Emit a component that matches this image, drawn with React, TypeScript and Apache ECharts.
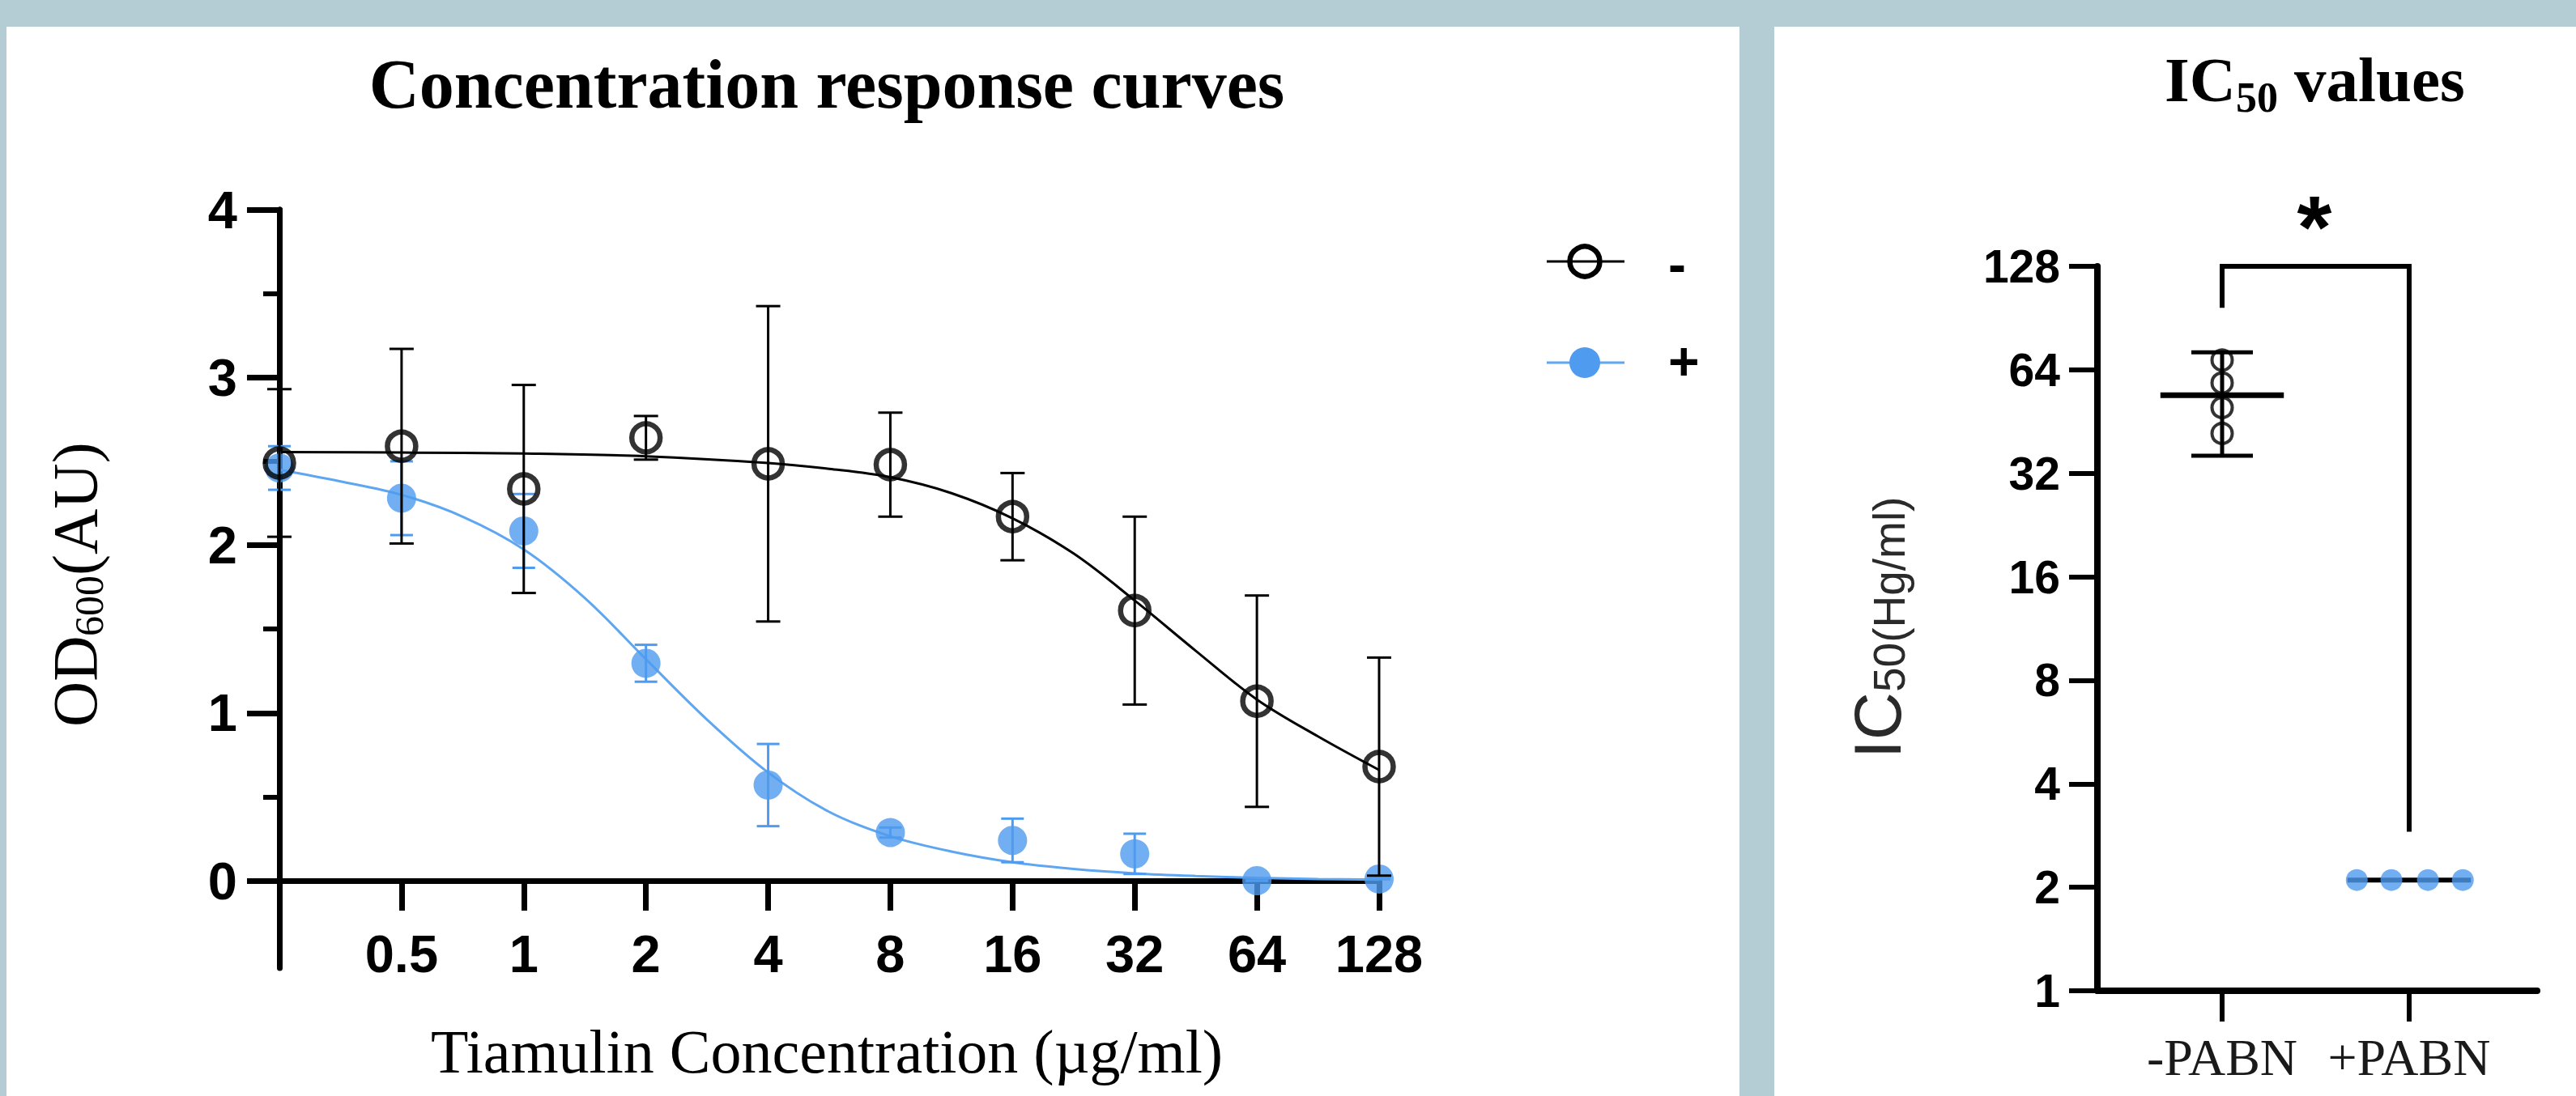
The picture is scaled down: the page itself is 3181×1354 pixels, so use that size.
import React, { useEffect, useRef } from "react";
import * as echarts from "echarts";

// ---------- Left panel data (OD600 vs Tiamulin concentration) ----------
// positions 0..9 on the axis: 0 = no drug, then 0.5 ... 128 µg/ml
const concTickLabels = ["0.5", "1", "2", "4", "8", "16", "32", "64", "128"];
const concPositions = [0, 1, 2, 3, 4, 5, 6, 7, 8, 9];
const concTickPositions = [1, 2, 3, 4, 5, 6, 7, 8, 9];
const odTickValues = [0, 1, 2, 3, 4];
const odMinorTickValues = [0.5, 1.5, 2.5, 3.5];
const odAxisLowerEnd = -0.52;

// "-" (no PABN), open black circles
const minusMean = [2.49, 2.59, 2.335, 2.64, 2.485, 2.48, 2.17, 1.61, 1.07, 0.68];
const minusSD = [0.44, 0.58, 0.62, 0.13, 0.94, 0.31, 0.26, 0.56, 0.63, 0.65];
// "+" (with PABN), filled blue circles
const plusMean = [2.46, 2.28, 2.085, 1.296, 0.57, 0.287, 0.24, 0.16, 0.0, 0.01];
const plusSD = [0.13, 0.22, 0.22, 0.11, 0.245, 0.03, 0.13, 0.12, 0, 0];

// fitted curves
const minusCurvePos = [0, 1, 2, 3, 4, 4.5, 5, 5.5, 6, 6.5, 7, 7.5, 8, 8.5, 9];
const minusCurveVal = [2.555, 2.552, 2.546, 2.53, 2.49, 2.455, 2.405, 2.31, 2.16, 1.95, 1.67, 1.37, 1.08, 0.86, 0.66];
const plusCurvePos = [0, 0.5, 1, 1.5, 2, 2.5, 3, 3.5, 4, 4.5, 5, 5.5, 6, 6.5, 7, 7.5, 8, 8.5, 9];
const plusCurveVal = [2.45, 2.38, 2.3, 2.17, 1.975, 1.685, 1.32, 0.96, 0.645, 0.41, 0.265, 0.174, 0.11, 0.07, 0.044, 0.028, 0.017, 0.01, 0.006];

// ---------- Right panel data (IC50) ----------
const groupLabels = ["-PABN", "+PABN"];
const groupPositions = [0, 1];
const log2Ticks = [1, 2, 4, 8, 16, 32, 64, 128];
const minusPabnIC50 = [68.3, 58.6, 49.7, 41.8];
const minusPabnMean = 54;
const minusPabnLow = 36;
const minusPabnHigh = 72;
const plusPabnIC50 = [2.1, 2.1, 2.1, 2.1];
const plusPabnJitter = [-0.28, -0.095, 0.1, 0.287];
const plusPabnMean = 2.1;
const meanHalfWidth = 0.33;
const bracketX = [0, 0, 1, 1];
const bracketY = [97, 128, 128, 2.9];

const BLUE = "#4f9bef";
const BLUE_LINE = "#5ea6f2";
const SANS = "'Liberation Sans', Arial, Helvetica, sans-serif";
const SERIF = "'Liberation Serif', 'Times New Roman', Times, serif";

function errorSeries(
  name: string,
  xs: number[],
  lows: number[],
  highs: number[],
  color: string,
  capHalf: number,
  width: number,
  xAxisIndex: number,
  yAxisIndex: number,
  z: number
) {
  return {
    type: "custom",
    name,
    xAxisIndex,
    yAxisIndex,
    z,
    silent: true,
    clip: false,
    data: xs.map((x, i) => [x, lows[i], highs[i]]),
    encode: { x: 0, y: [1, 2] },
    renderItem: (_params: any, api: any) => {
      const x = api.value(0);
      const lo = api.value(1);
      const hi = api.value(2);
      const a = api.coord([x, lo]);
      const b = api.coord([x, hi]);
      const st = { stroke: color, lineWidth: width, fill: "none" };
      return {
        type: "group",
        children: [
          { type: "line", shape: { x1: a[0], y1: a[1], x2: b[0], y2: b[1] }, style: st },
          { type: "line", shape: { x1: a[0] - capHalf, y1: a[1], x2: a[0] + capHalf, y2: a[1] }, style: st },
          { type: "line", shape: { x1: b[0] - capHalf, y1: b[1], x2: b[0] + capHalf, y2: b[1] }, style: st },
        ],
      };
    },
  };
}

function txt(
  text: string,
  x: number,
  y: number,
  size: number,
  family: string,
  weight: string,
  align: string = "left",
  rotation: number = 0,
  color: string = "#000"
) {
  return {
    type: "text",
    x,
    y,
    rotation,
    silent: true,
    z: 20,
    style: {
      text,
      fill: color,
      fontSize: size,
      fontFamily: family,
      fontWeight: weight,
      textAlign: align,
      align,
      textVerticalAlign: "middle",
      verticalAlign: "middle",
    },
  };
}

export default function App() {
  const ref = useRef<HTMLDivElement>(null);

  useEffect(() => {
    if (!ref.current) return;
    const chart = echarts.init(ref.current, undefined, { renderer: "svg" });

    const graphicElements: any[] = [
      { type: "rect", silent: true, z: -10, shape: { x: 8, y: 33, width: 2140, height: 1321 }, style: { fill: "#ffffff" } },
      { type: "rect", silent: true, z: -10, shape: { x: 2191, y: 33, width: 990, height: 1321 }, style: { fill: "#ffffff" } },
      // left title
      txt("Concentration response curves", 1021, 104, 86, SERIF, "bold", "center"),
      // x axis title
      txt("Tiamulin Concentration (\u00b5g/ml)", 1021, 1299, 76, SERIF, "normal", "center"),
      // y axis title OD600(AU), rotated
      txt("OD", 92, 898, 78, SERIF, "normal", "left", Math.PI / 2),
      txt("600", 110, 786, 50, SERIF, "normal", "left", Math.PI / 2),
      txt("(AU)", 92, 711, 78, SERIF, "normal", "left", Math.PI / 2),
      // legend
      { type: "line", silent: true, z: 20, shape: { x1: 1910, y1: 323, x2: 2006, y2: 323 }, style: { stroke: "#000", lineWidth: 3 } },
      { type: "circle", silent: true, z: 21, shape: { cx: 1957, cy: 323, r: 18.5 }, style: { fill: "none", stroke: "#000", lineWidth: 6.5 } },
      txt("-", 2060, 326, 66, SANS, "bold"),
      { type: "line", silent: true, z: 20, shape: { x1: 1910, y1: 448, x2: 2006, y2: 448 }, style: { stroke: BLUE_LINE, lineWidth: 3 } },
      { type: "circle", silent: true, z: 21, shape: { cx: 1957, cy: 448, r: 19 }, style: { fill: BLUE } },
      txt("+", 2060, 446, 66, SANS, "bold"),
      // right title IC50 values
      txt("IC", 2673, 98, 79, SERIF, "bold"),
      txt("50", 2761, 120, 52, SERIF, "bold"),
      txt("values", 2833, 98, 79, SERIF, "bold"),
      // significance star
      txt("*", 2858, 279, 110, SANS, "bold", "center"),
      // right y axis title IC50(Hg/ml)
      txt("IC", 2318, 937, 82, SANS, "normal", "left", Math.PI / 2, "#2a2a2a"),
      txt("50(Hg/ml)", 2333, 855, 55, SANS, "normal", "left", Math.PI / 2, "#2a2a2a"),
    ];

    const option: any = {
      animation: false,
      backgroundColor: "#b4cdd4",
      graphic: { elements: graphicElements },
      grid: [
        // data area of the left chart: value 4 at top, value 0 at bottom
        { left: 345, top: 259, width: 1358, height: 829, containLabel: false },
        // right chart
        { left: 2590, top: 329, width: 543, height: 895, containLabel: false },
        // left chart's y axis line, which runs on below 0
        { left: 345, top: 259, width: 1358, height: 937, containLabel: false },
      ],
      xAxis: [
        {
          type: "value",
          gridIndex: 0,
          min: 0,
          max: 9,
          axisLine: { show: true, onZero: false, lineStyle: { color: "#000", width: 7 } },
          axisTick: { show: true, customValues: concTickPositions, length: 37, lineStyle: { color: "#000", width: 7 } },
          axisLabel: {
            show: true,
            customValues: concTickPositions,
            formatter: (v: number) => concTickLabels[Math.round(v) - 1] ?? "",
            fontSize: 65,
            fontWeight: "bold",
            fontFamily: SANS,
            color: "#000",
            margin: 58,
          },
          splitLine: { show: false },
        },
        {
          type: "value",
          gridIndex: 1,
          min: -0.6667,
          max: 1.684,
          axisLine: { show: true, onZero: false, lineStyle: { color: "#000", width: 8 } },
          axisTick: { show: true, customValues: groupPositions, length: 38, lineStyle: { color: "#000", width: 6 } },
          axisLabel: {
            show: true,
            customValues: groupPositions,
            formatter: (v: number) => groupLabels[Math.round(v)] ?? "",
            fontSize: 64,
            fontFamily: SERIF,
            color: "#1a1a1a",
            margin: 50,
          },
          splitLine: { show: false },
        },
        {
          type: "value",
          gridIndex: 2,
          min: 0,
          max: 9,
          show: false,
        },
      ],
      yAxis: [
        {
          type: "value",
          gridIndex: 0,
          min: 0,
          max: 4,
          position: "left",
          axisLine: { show: true, onZero: false, lineStyle: { color: "#000", width: 7 } },
          axisTick: { show: true, customValues: odTickValues, length: 40, lineStyle: { color: "#000", width: 7 } },
          axisLabel: {
            show: true,
            customValues: odTickValues,
            fontSize: 65,
            fontWeight: "bold",
            fontFamily: SANS,
            color: "#000",
            margin: 52,
          },
          splitLine: { show: false },
        },
        {
          type: "value",
          gridIndex: 0,
          min: 0,
          max: 4,
          position: "left",
          offset: 0,
          axisLine: { show: false },
          axisTick: { show: true, customValues: odMinorTickValues, length: 20, lineStyle: { color: "#000", width: 6 } },
          axisLabel: { show: false },
          splitLine: { show: false },
        },
        {
          type: "log",
          logBase: 2,
          gridIndex: 1,
          min: log2Ticks[0],
          max: log2Ticks[log2Ticks.length - 1],
          interval: 1,
          position: "left",
          axisLine: { show: true, onZero: false, lineStyle: { color: "#000", width: 8 } },
          axisTick: { show: true, length: 35, lineStyle: { color: "#000", width: 6 } },
          axisLabel: {
            show: true,
            fontSize: 57,
            fontWeight: "bold",
            fontFamily: SANS,
            color: "#000",
            margin: 46,
          },
          minorTick: { show: false },
          splitLine: { show: false },
        },
        {
          type: "value",
          gridIndex: 2,
          min: odAxisLowerEnd,
          max: 4,
          position: "left",
          axisLine: { show: true, onZero: false, lineStyle: { color: "#000", width: 7 } },
          axisTick: { show: false },
          axisLabel: { show: false },
          splitLine: { show: false },
        },
      ],
      series: [
        {
          type: "line",
          name: "- fit",
          xAxisIndex: 0,
          yAxisIndex: 0,
          z: 2,
          data: minusCurvePos.map((p, i) => [p, minusCurveVal[i]]),
          smooth: 0.35,
          showSymbol: false,
          symbol: "none",
          clip: false,
          lineStyle: { color: "#000", width: 3 },
          silent: true,
        },
        {
          type: "line",
          name: "+ fit",
          xAxisIndex: 0,
          yAxisIndex: 0,
          z: 2,
          data: plusCurvePos.map((p, i) => [p, plusCurveVal[i]]),
          smooth: 0.35,
          showSymbol: false,
          symbol: "none",
          clip: false,
          lineStyle: { color: BLUE_LINE, width: 3 },
          silent: true,
        },
        errorSeries(
          "+ sd",
          concPositions,
          plusMean.map((m, i) => m - plusSD[i]),
          plusMean.map((m, i) => m + plusSD[i]),
          BLUE,
          14,
          3,
          0,
          0,
          3
        ),
        {
          type: "scatter",
          name: "+",
          xAxisIndex: 0,
          yAxisIndex: 0,
          z: 4,
          clip: false,
          symbol: "circle",
          symbolSize: 36,
          itemStyle: { color: BLUE },
          data: concPositions.map((p, i) => [p, plusMean[i]]),
          silent: true,
        },
        errorSeries(
          "- sd",
          concPositions,
          minusMean.map((m, i) => m - minusSD[i]),
          minusMean.map((m, i) => m + minusSD[i]),
          "#000",
          15,
          3,
          0,
          0,
          5
        ),
        {
          type: "scatter",
          name: "-",
          xAxisIndex: 0,
          yAxisIndex: 0,
          z: 6,
          clip: false,
          symbol: "circle",
          symbolSize: 35,
          itemStyle: { color: "rgba(0,0,0,0)", borderColor: "#000", borderWidth: 6.5 },
          data: concPositions.map((p, i) => [p, minusMean[i]]),
          silent: true,
        },
        // ----- right panel -----
        errorSeries("-PABN sd", [groupPositions[0]], [minusPabnLow], [minusPabnHigh], "#000", 38, 5, 1, 2, 3),
        {
          type: "line",
          name: "-PABN mean",
          xAxisIndex: 1,
          yAxisIndex: 2,
          z: 3,
          symbol: "none",
          clip: false,
          lineStyle: { color: "#000", width: 7 },
          data: [
            [groupPositions[0] - meanHalfWidth, minusPabnMean],
            [groupPositions[0] + meanHalfWidth, minusPabnMean],
          ],
          silent: true,
        },
        {
          type: "scatter",
          name: "-PABN",
          xAxisIndex: 1,
          yAxisIndex: 2,
          z: 5,
          clip: false,
          symbol: "circle",
          symbolSize: 25,
          itemStyle: { color: "rgba(0,0,0,0)", borderColor: "#000", borderWidth: 4 },
          data: minusPabnIC50.map((v) => [groupPositions[0], v]),
          silent: true,
        },
        {
          type: "line",
          name: "+PABN mean",
          xAxisIndex: 1,
          yAxisIndex: 2,
          z: 3,
          symbol: "none",
          clip: false,
          lineStyle: { color: "#000", width: 6 },
          data: [
            [groupPositions[1] - meanHalfWidth, plusPabnMean],
            [groupPositions[1] + meanHalfWidth, plusPabnMean],
          ],
          silent: true,
        },
        {
          type: "scatter",
          name: "+PABN",
          xAxisIndex: 1,
          yAxisIndex: 2,
          z: 5,
          clip: false,
          symbol: "circle",
          symbolSize: 27,
          itemStyle: { color: BLUE },
          data: plusPabnIC50.map((v, i) => [groupPositions[1] + plusPabnJitter[i], v]),
          silent: true,
        },
        {
          type: "line",
          name: "bracket",
          xAxisIndex: 1,
          yAxisIndex: 2,
          z: 3,
          symbol: "none",
          clip: false,
          lineStyle: { color: "#000", width: 6, join: "miter", cap: "butt" },
          data: bracketX.map((x, i) => [x, bracketY[i]]),
          silent: true,
        },
      ],
    };

    chart.setOption(option);
    return () => {
      chart.dispose();
    };
  }, []);

  return (
    <div
      ref={ref}
      style={{ position: "fixed", left: 0, top: 0, width: 3181, height: 1354 }}
    />
  );
}
